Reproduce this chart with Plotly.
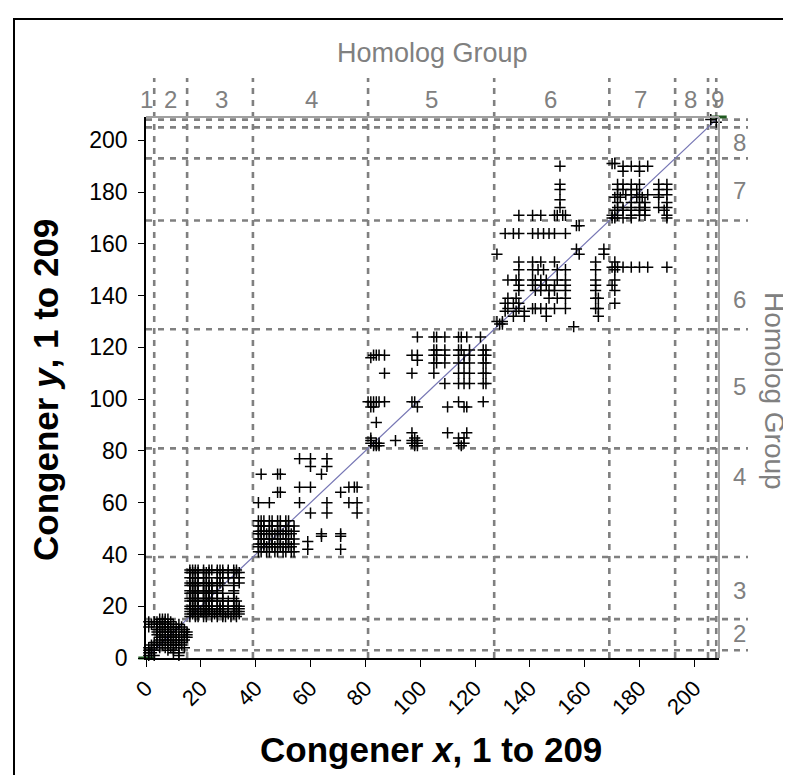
import plotly.graph_objects as go

# ---------------- data ----------------
# homolog group boundaries (last congener number of each group)
BOUNDS = [3, 15, 39, 81, 127, 169, 193, 205, 208]
GROUP_LABELS = ["1", "2", "3", "4", "5", "6", "7", "8", "9"]
TOP_LABEL_X = [0.3, 9, 27.5, 60.5, 104, 147.5, 180.5, 198.5, 208.6]
RIGHT_LABEL_Y = [-2.5, 9.5, 26, 70, 105, 138.5, 180.5, 199, 210.5]
TICKS = [0, 20, 40, 60, 80, 100, 120, 140, 160, 180, 200]

# coeluting pairs, listed as rows: (congener y, [congener x ...])
G12_ROWS = [
    (15, [5, 6, 7, 8]),
    (14, [1, 3, 4, 6, 7, 9]),
    (13, [2, 4, 5, 7, 8, 10, 12]),
    (12, [1, 4, 6, 8, 9, 11, 13]),
    (11, [4, 5, 7, 8, 10, 12, 14]),
    (10, [4, 6, 8, 9, 11, 14, 15]),
    (9, [4, 5, 7, 9, 11, 13, 15]),
    (8, [5, 6, 8, 9, 10, 12, 14, 15]),
    (7, [5, 7, 8, 10, 12, 14]),
    (6, [3, 4, 6, 8, 9, 11, 13]),
    (5, [2, 4, 6, 8, 10, 11, 13]),
    (4, [1, 2, 5, 7, 9, 12, 14]),
    (3, [1, 2, 3, 8, 10]),
    (2, [1, 2, 10, 12]),
    (1, [1, 3, 12]),
]
G3_ROWS = [
    (34, [16, 17, 18, 19, 21, 23, 24, 26, 27, 28, 30, 32, 33]),
    (33, [16, 17, 18, 19, 21, 22, 23, 26, 28, 30, 32, 33, 34]),
    (31, [16, 17, 18, 19, 21, 22, 26, 27, 28, 30, 32, 34]),
    (29, [16, 17, 18, 19, 21, 22, 23, 24, 26, 27, 32, 34]),
    (28, [16, 17, 18, 19, 21, 23, 24, 26, 28, 32]),
    (26, [16, 17, 18, 19, 21, 22, 23, 24, 26, 32]),
    (25, [16, 17, 18, 19, 21, 22, 23, 24, 26, 28, 32]),
    (23, [16, 17, 18, 19, 21, 22, 23, 24, 26, 28, 32]),
    (22, [16, 17, 18, 19, 21, 22, 23, 24, 26, 28, 30, 32, 33]),
    (20, [16, 17, 18, 19, 21, 22, 23, 24, 26, 27, 28, 30, 32, 33, 34]),
    (19, [16, 17, 18, 19, 21, 22, 23, 24, 26, 27, 28, 30, 32, 34]),
    (18, [16, 17, 18, 20, 21, 22, 23, 24, 26, 27, 28, 30, 32, 33, 34]),
    (17, [16, 17, 19, 21, 22, 24, 25, 26, 28, 30, 32, 34]),
    (16, [16, 18, 19, 21, 22, 24, 26, 28, 29, 31, 33]),
]
G4_ROWS = [
    (77, [56, 60, 66]),
    (74, [60, 66]),
    (71, [42, 48, 49, 64]),
    (66, [56, 60, 74, 76, 77]),
    (64, [48, 49, 71]),
    (60, [41, 45, 56, 66, 74, 77]),
    (56, [60, 66, 77]),
    (53, [41, 42, 43, 45, 46, 48, 49, 51, 52]),
    (51, [41, 42, 43, 45, 46, 48, 49, 51, 52, 54]),
    (49, [41, 42, 43, 45, 46, 48, 49, 51, 52, 54]),
    (48, [41, 42, 44, 45, 47, 48, 50, 51, 53, 64, 71]),
    (47, [64, 71]),
    (46, [41, 42, 43, 45, 46, 48, 49, 51, 52, 54]),
    (45, [59]),
    (44, [41, 42, 43, 45, 46, 48, 49, 51, 52, 54]),
    (43, [41, 43, 44, 46, 47, 49, 50, 52, 53]),
    (42, [59, 71]),
    (41, [41, 42, 44, 45, 47, 48, 50, 51, 53, 54]),
]
G5_ROWS = [
    (124, [99, 105, 106, 109, 114, 115, 117, 122]),
    (119, [105, 106, 109, 114, 115, 118, 123, 124]),
    (117, [83, 84, 85, 87, 97, 99, 105, 106, 109, 114, 116, 118, 123, 124]),
    (116, [82]),
    (115, [99]),
    (114, [105, 106, 109, 114, 116, 118, 123, 124]),
    (110, [87, 97, 105, 114, 116, 118, 123, 124]),
    (106, [109, 114, 116, 118, 123, 124]),
    (99, [81, 82, 83, 84, 85, 87, 97, 98, 114, 123]),
    (97, [82, 83, 99, 110, 116, 117]),
    (91, [84]),
    (87, [97, 110, 117]),
    (85, [82, 98, 114, 116]),
    (84, [82, 91, 97, 99]),
    (83, [82, 84, 85, 97, 99, 114, 116]),
    (82, [83, 84, 85, 98, 99, 115]),
]
G6_ROWS = [
    (190, [151]),
    (183, [151]),
    (181, [151]),
    (177, [151]),
    (174, [151]),
    (171, [136, 141, 144, 149, 150, 152, 153]),
    (167, [157, 158]),
    (164, [131, 134, 136, 141, 143, 145, 147, 149, 153]),
    (158, [157, 167]),
    (156, [128, 158, 167]),
    (153, [136, 141, 144, 149, 164, 171]),
    (151, [170, 171, 172, 174, 177, 180, 183, 190]),
    (150, [136, 141, 143, 145, 150, 153, 164, 171]),
    (146, [132, 135, 136, 141, 142, 144, 146, 150, 153, 164, 171]),
    (144, [136, 141, 144, 146, 149, 153, 164, 170]),
    (142, [136, 142, 144, 147, 149, 153, 164, 171]),
    (139, [132, 135, 147, 150, 153, 164, 165]),
    (137, [131, 134, 136, 171]),
    (135, [132, 136, 141, 142, 144, 146, 149, 153, 164, 165]),
    (134, [131, 135, 138]),
    (132, [134, 138, 146, 165]),
    (130, [128, 130]),
    (129, [129, 130]),
    (128, [156]),
]
G7_ROWS = [
    (191, [170, 171]),
    (190, [174, 177, 180, 183]),
    (188, [174, 180]),
    (183, [172, 174, 177, 180, 187, 190]),
    (181, [172, 174, 177, 179, 187, 190]),
    (179, [172, 175, 177, 180, 183, 187, 190]),
    (178, [171, 173, 179, 181, 187]),
    (176, [172, 177, 180, 182, 190]),
    (174, [172, 174, 177, 180, 182, 187, 190]),
    (173, [171, 174, 177, 180, 182, 189]),
    (171, [170, 172, 177, 180, 182, 190]),
    (170, [170, 171, 174, 177, 190]),
]
G9_ROWS = [
    (208, [206]),
    (207, [208]),
]
DIAG_X = [0, 209]
DIAG_Y = [0, 209]

# ---------------- build ----------------
pts_x, pts_y = [], []
for rows in (G12_ROWS, G3_ROWS, G4_ROWS, G5_ROWS, G6_ROWS, G7_ROWS, G9_ROWS):
    for yv, xs in rows:
        for xv in xs:
            pts_x.append(xv)
            pts_y.append(yv)

FONT = "Arial, Liberation Sans, sans-serif"
GRAY = "#808080"

fig = go.Figure()
fig.add_trace(go.Scatter(
    x=DIAG_X, y=DIAG_Y, mode="lines+markers",
    line=dict(color="#7676B4", width=1.2),
    marker=dict(symbol="line-ew", size=11, line=dict(color="#1F5A1F", width=3)),
    cliponaxis=False, hoverinfo="skip", showlegend=False))
fig.add_trace(go.Scatter(
    x=pts_x, y=pts_y, mode="markers",
    marker=dict(symbol="cross-thin", size=8, line=dict(color="black", width=1.5)),
    cliponaxis=False, showlegend=False))

W, H = 791, 775
ML, MR, MT, MB = 138, 80, 109, 125
PW, PH = W - ML - MR, H - MT - MB

def px_x(p):  # pixel -> paper x
    return (p - ML) / PW

def px_y(p):  # pixel -> paper y
    return (H - MB - p) / PH

shapes = []
dash = dict(color=GRAY, width=2.6, dash="6px,6px")
for b in BOUNDS:
    shapes.append(dict(type="line", xref="x", yref="paper", x0=b, x1=b,
                       y0=0, y1=px_y(70), line=dash, layer="below"))
    shapes.append(dict(type="line", xref="paper", yref="y", y0=b, y1=b,
                       x0=0, x1=px_x(740), line=dash, layer="below"))
# secondary axis lines (top and right)
shapes.append(dict(type="line", xref="paper", yref="paper", x0=0, x1=1, y0=1, y1=1,
                   line=dict(color="#A0A0A0", width=2)))
shapes.append(dict(type="line", xref="paper", yref="paper", x0=1, x1=1, y0=0, y1=1,
                   line=dict(color="#A0A0A0", width=2)))
# outer frame
shapes.append(dict(type="rect", xref="paper", yref="paper",
                   x0=px_x(6), x1=px_x(W + 20), y0=px_y(11), y1=px_y(H + 20),
                   line=dict(color="black", width=2)))

annotations = []
for lab, xv in zip(GROUP_LABELS, TOP_LABEL_X):
    annotations.append(dict(x=xv, y=px_y(91), xref="x", yref="paper", text=lab,
                            showarrow=False, font=dict(family=FONT, size=24, color=GRAY),
                            xanchor="center", yanchor="middle"))
for lab, yv in zip(GROUP_LABELS, RIGHT_LABEL_Y):
    annotations.append(dict(x=px_x(731), y=yv, xref="paper", yref="y", text=lab,
                            showarrow=False, font=dict(family=FONT, size=24, color=GRAY),
                            xanchor="center", yanchor="middle"))
annotations.append(dict(x=0.5, y=px_y(45), xref="paper", yref="paper", text="Homolog Group",
                        showarrow=False, font=dict(family=FONT, size=27, color=GRAY),
                        xanchor="center", yanchor="middle"))
annotations.append(dict(x=px_x(767), y=px_y(383), xref="paper", yref="paper", text="Homolog Group",
                        showarrow=False, textangle=90, font=dict(family=FONT, size=28, color=GRAY),
                        xanchor="center", yanchor="middle"))
annotations.append(dict(x=px_x(423), y=px_y(741), xref="paper", yref="paper",
                        text="<b>Congener <i>x</i>, 1 to 209</b>",
                        showarrow=False, font=dict(family=FONT, size=35, color="black"),
                        xanchor="center", yanchor="middle"))
annotations.append(dict(x=px_x(37), y=px_y(382), xref="paper", yref="paper",
                        text="<b>Congener <i>y</i>, 1 to 209</b>", textangle=-90,
                        showarrow=False, font=dict(family=FONT, size=35, color="black"),
                        xanchor="center", yanchor="middle"))

fig.update_layout(
    width=W, height=H,
    margin=dict(l=ML, r=MR, t=MT, b=MB, pad=0),
    paper_bgcolor="white", plot_bgcolor="white",
    shapes=shapes, annotations=annotations,
    font=dict(family=FONT, color="black"),
    xaxis=dict(range=[0, 209], tickvals=TICKS, ticks="outside", ticklen=7,
               tickcolor="black", tickwidth=1, showline=True, linecolor="black",
               linewidth=1.5, showgrid=False, zeroline=False, tickangle=-45,
               tickfont=dict(family=FONT, size=22, color="black")),
    yaxis=dict(range=[0, 209], tickvals=TICKS, ticks="outside", ticklen=6,
               tickcolor="black", tickwidth=1, showline=True, linecolor="black",
               linewidth=1.5, showgrid=False, zeroline=False, ticklabelstandoff=6,
               tickfont=dict(family=FONT, size=23, color="black")),
)

fig.write_html("out.html")
